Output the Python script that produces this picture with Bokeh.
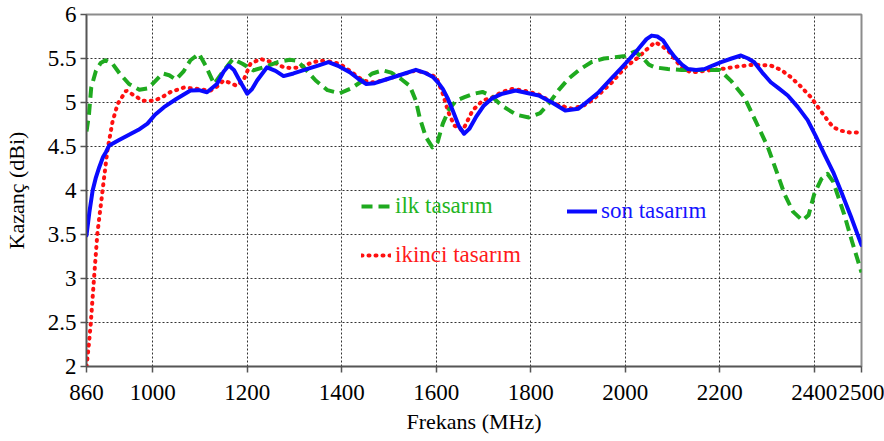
from bokeh.plotting import figure
from bokeh.models import FixedTicker, Legend, LegendItem, Range1d
from bokeh.embed import file_html
from bokeh.resources import INLINE

# ---- data ----
freq_ilk = [860, 865, 870, 880, 890, 900, 915, 930, 950, 972, 990, 1005, 1021, 1035, 1049,
            1065, 1080, 1098, 1112, 1130, 1150, 1170, 1190, 1213, 1240, 1265, 1290, 1305,
            1320, 1345, 1370, 1396, 1420, 1445, 1465, 1487, 1505, 1525, 1544, 1557, 1565,
            1578, 1592, 1603, 1614, 1628, 1642, 1660, 1680, 1698, 1715, 1740, 1770, 1796,
            1820, 1840, 1859, 1880, 1905, 1929, 1955, 1979, 2000, 2020, 2035, 2050, 2063,
            2090, 2119, 2140, 2170, 2200, 2225, 2252, 2275, 2302, 2320, 2337, 2355, 2375,
            2388, 2400, 2415, 2428, 2440, 2463, 2480, 2500]
gain_ilk = [4.67, 4.85, 5.17, 5.36, 5.45, 5.48, 5.44, 5.33, 5.21, 5.145, 5.16, 5.24, 5.33, 5.31, 5.26,
            5.35, 5.48, 5.555, 5.42, 5.21, 5.36, 5.495, 5.44, 5.365, 5.41, 5.46, 5.485, 5.475,
            5.40, 5.25, 5.14, 5.105, 5.16, 5.25, 5.33, 5.365, 5.34, 5.27, 5.19, 5.02, 4.83,
            4.61, 4.49, 4.55, 4.76, 4.93, 5.02, 5.06, 5.10, 5.12, 5.08, 4.96, 4.86, 4.83,
            4.88, 5.00, 5.14, 5.27, 5.38, 5.46, 5.50, 5.515, 5.53, 5.58, 5.52, 5.43, 5.40,
            5.38, 5.37, 5.37, 5.37, 5.37, 5.24, 5.06, 4.80, 4.49, 4.22, 3.96, 3.76, 3.66,
            3.72, 3.96, 4.13, 4.19, 4.10, 3.735, 3.42, 3.07]

freq_ikinci = [860, 865, 869, 876, 883, 894, 904, 915, 926, 944, 961, 979, 1003, 1020, 1038,
               1066, 1094, 1122, 1136, 1150, 1165, 1178, 1192, 1207, 1228, 1245, 1263, 1277,
               1295, 1312, 1335, 1354, 1375, 1396, 1420, 1445, 1466, 1487, 1522, 1557, 1580,
               1600, 1614, 1625, 1638, 1656, 1677, 1698, 1719, 1740, 1761, 1790, 1817, 1840,
               1859, 1887, 1910, 1929, 1950, 1972, 2000, 2028, 2045, 2063, 2075, 2091, 2105,
               2119, 2140, 2168, 2203, 2240, 2273, 2308, 2330, 2350, 2372, 2393, 2410, 2428,
               2440, 2456, 2475, 2490, 2500]
gain_ikinci = [2.0, 2.25, 2.49, 3.01, 3.51, 4.0, 4.45, 4.78, 4.985, 5.135, 5.08, 5.02, 5.02, 5.06, 5.12,
               5.17, 5.155, 5.135, 5.18, 5.25, 5.22, 5.19, 5.25, 5.44, 5.495, 5.47, 5.44, 5.40,
               5.39, 5.40, 5.45, 5.477, 5.465, 5.44, 5.35, 5.25, 5.23, 5.25, 5.31, 5.365, 5.33,
               5.29, 5.10, 4.90, 4.74, 4.68, 4.91, 5.02, 5.06, 5.12, 5.155, 5.13, 5.09, 5.02,
               4.97, 4.93, 4.96, 5.02, 5.12, 5.23, 5.40, 5.515, 5.60, 5.685, 5.65, 5.59, 5.49,
               5.40, 5.34, 5.36, 5.38, 5.41, 5.43, 5.42, 5.37, 5.29, 5.18, 5.06, 4.93, 4.80,
               4.72, 4.68, 4.66, 4.66, 4.63]

freq_son = [860, 866, 873, 880, 887, 895, 901, 908, 928, 947, 970, 989, 1005, 1024, 1050,
            1080, 1098, 1115, 1136, 1150, 1161, 1172, 1182, 1200, 1210, 1221, 1242, 1260,
            1277, 1298, 1326, 1350, 1372, 1395, 1417, 1435, 1452, 1470, 1487, 1522, 1557,
            1575, 1593, 1605, 1614, 1625, 1635, 1648, 1659, 1670, 1684, 1700, 1719, 1740,
            1768, 1790, 1817, 1845, 1873, 1901, 1920, 1944, 1970, 1993, 2010, 2028, 2045,
            2056, 2068, 2080, 2093, 2105, 2120, 2133, 2150, 2168, 2185, 2203, 2225, 2245,
            2260, 2273, 2290, 2308, 2325, 2344, 2365, 2386, 2403, 2421, 2440, 2456, 2478, 2500]
gain_son = [3.49, 3.75, 4.0, 4.15, 4.265, 4.38, 4.435, 4.51, 4.57, 4.625, 4.69, 4.76, 4.86, 4.947, 5.04,
            5.136, 5.14, 5.117, 5.21, 5.35, 5.42, 5.37, 5.27, 5.10, 5.15, 5.25, 5.40, 5.36,
            5.30, 5.33, 5.38, 5.42, 5.458, 5.41, 5.345, 5.27, 5.21, 5.22, 5.25, 5.31, 5.371,
            5.34, 5.29, 5.22, 5.155, 5.04, 4.91, 4.73, 4.645, 4.70, 4.833, 4.96, 5.05, 5.10,
            5.136, 5.11, 5.08, 5.00, 4.91, 4.93, 5.01, 5.117, 5.27, 5.40, 5.50, 5.61, 5.72,
            5.76, 5.75, 5.705, 5.60, 5.515, 5.43, 5.38, 5.37, 5.38, 5.42, 5.458, 5.50, 5.534,
            5.50, 5.458, 5.34, 5.23, 5.16, 5.08, 4.95, 4.80, 4.62, 4.417, 4.21, 4.0, 3.70, 3.38]

x_ticks = [860, 1000, 1200, 1400, 1600, 1800, 2000, 2200, 2400, 2500]
y_ticks = [2, 2.5, 3, 3.5, 4, 4.5, 5, 5.5, 6]
y_tick_labels = ["2", "2.5", "3", "3.5", "4", "4.5", "5", "5.5", "6"]

series_labels = ["ilk tasarım", "ikinci tasarım", "son tasarım"]
x_title = "Frekans (MHz)"
y_title = "Kazanç (dBi)"

# ---- styling ----
FONT = "Liberation Serif"
STYLE = "normal"
GREEN = "#1faa1f"
RED = "#ff1010"
BLUE = "#0a0aff"

p = figure(width=884, height=441, output_backend="svg", toolbar_location=None,
           x_range=Range1d(860, 2500), y_range=Range1d(2, 6),
           min_border_left=82, min_border_right=23, min_border_top=14,
           min_border_bottom=75)
p.background_fill_color = "white"
p.border_fill_color = "white"
p.outline_line_color = "#8c8c8c"
p.outline_line_width = 2

r_ikinci = p.line(freq_ikinci, gain_ikinci, line_color=RED, line_width=4,
                  line_dash="1 6", line_cap="round")
r_ilk = p.line(freq_ilk, gain_ilk, line_color=GREEN, line_width=4,
               line_dash="11 6", line_join="round")
r_son = p.line(freq_son, gain_son, line_color=BLUE, line_width=4,
               line_join="round", line_cap="round")

p.xaxis.ticker = FixedTicker(ticks=x_ticks)
p.yaxis.ticker = FixedTicker(ticks=y_ticks)
p.yaxis.major_label_overrides = {v: s for v, s in zip(y_ticks, y_tick_labels)}

p.axis.axis_line_color = "#555555"
p.axis.axis_line_width = 1.5
p.axis.major_tick_line_color = "#555555"
p.axis.major_tick_line_width = 1.5
p.axis.major_tick_out = 6
p.axis.major_tick_in = 0
p.axis.minor_tick_line_color = None
p.axis.major_label_text_font = FONT
p.axis.major_label_text_font_style = STYLE
p.axis.major_label_text_font_size = "23px"
p.axis.major_label_text_color = "black"
p.axis.axis_label_text_font = FONT
p.axis.axis_label_text_font_style = STYLE
p.axis.axis_label_text_font_size = "22px"
p.axis.axis_label_text_color = "black"

p.xaxis.axis_label = x_title
p.yaxis.axis_label = y_title
p.xaxis.major_label_standoff = 12
p.xaxis.axis_label_standoff = 6
p.yaxis.major_label_standoff = 4
p.yaxis.axis_label_standoff = 16

p.grid.grid_line_color = "#333333"
p.grid.grid_line_width = 1
p.grid.grid_line_dash = "2 2"
p.xgrid.ticker = FixedTicker(ticks=x_ticks)
p.ygrid.ticker = FixedTicker(ticks=y_ticks)


def make_legend(label, renderer, color, loc):
    leg = Legend(items=[LegendItem(label=label, renderers=[renderer])], location=loc)
    leg.label_text_font = FONT
    leg.label_text_font_style = STYLE
    leg.label_text_font_size = "23px"
    leg.label_text_color = color
    leg.border_line_color = None
    leg.background_fill_alpha = 0
    leg.padding = 0
    leg.margin = 0
    leg.glyph_width = 30
    leg.glyph_height = 20
    leg.label_height = 20
    leg.label_standoff = 4
    p.add_layout(leg)
    return leg


make_legend(series_labels[0], r_ilk, "#22b422", (275, 147))
make_legend(series_labels[1], r_ikinci, "#ff1a1a", (275, 98))
make_legend(series_labels[2], r_son, "#1515ff", (481, 142))

open("out.html", "w").write(file_html(p, INLINE))
